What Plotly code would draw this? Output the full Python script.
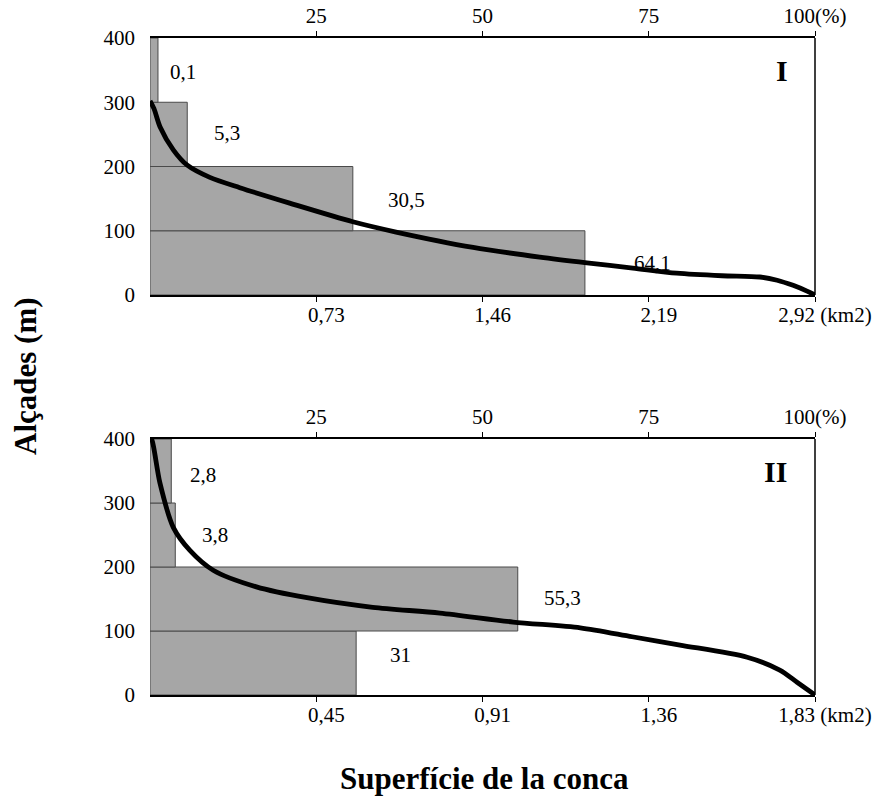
import plotly.graph_objects as go

# ---------------- data ----------------
alt_bands = [50, 150, 250, 350]          # band centres (m): 0-100, 100-200, 200-300, 300-400
band_height = 100

# Panel I
bar_pct_I = [65.4, 30.5, 5.6, 1.2]        # drawn bar lengths (% of basin area)
share_lbl_I = ["64,1", "30,5", "5,3", "0,1"]
curve_x_I = [0, 0.6, 1.5, 3.5, 5.6, 9, 13.5, 21, 30.5, 37, 48.6, 58.6, 65.7, 72.6, 79.2, 86, 91.7, 94.3, 96.7, 98.8, 100]
curve_y_I = [302, 290, 262, 226, 202, 183, 167, 143, 114, 98, 74, 59, 50, 42, 34, 30, 28, 23, 15, 6, 0]
km_lbl_I = ["0,73", "1,46", "2,19", "2,92 (km2)"]      # km2 at 25/50/75/100 %

# Panel II
bar_pct_II = [31.0, 55.3, 3.8, 3.2]
share_lbl_II = ["31", "55,3", "3,8", "2,8"]
curve_x_II = [0, 0.3, 1.5, 3.5, 6, 9.5, 16, 23.6, 33.5, 43.6, 54.6, 64.7, 72.5, 79.7, 89.8, 94.7, 97.3, 100]
curve_y_II = [402, 398, 331, 262, 226, 195, 169, 152, 137, 128, 114, 105, 91, 78, 59, 39, 20, 0]
km_lbl_II = ["0,45", "0,91", "1,36", "1,83 (km2)"]

pct_ticks = [25, 50, 75, 100]
pct_lbl = ["25", "50", "75", "100(%)"]
alt_ticks = [0, 100, 200, 300, 400]

# ---------------- style ----------------
FONT = "Liberation Serif"
BAR_FILL = "#a6a6a6"
BAR_LINE = "#4a4a4a"
TICK_SIZE = 21

XDOM = [150 / 891, 815 / 891]
YDOM_I = [1 - 295 / 799, 1 - 38 / 799]
YDOM_II = [1 - 695 / 799, 1 - 439 / 799]

fig = go.Figure()


def add_panel(bars, curve_x, curve_y, xa_bot, xa_top, ya):
    # bars on the bottom axis, curve on the overlaid top (%) axis (drawn above); same 0-100 % scale
    fig.add_trace(go.Bar(
        x=bars, y=alt_bands, orientation="h", width=band_height,
        marker=dict(color=BAR_FILL, line=dict(color=BAR_LINE, width=1)),
        xaxis=xa_bot, yaxis=ya, showlegend=False, hoverinfo="skip"))
    fig.add_trace(go.Scatter(
        x=curve_x, y=curve_y, mode="lines",
        line=dict(color="black", width=4.8, shape="spline", smoothing=0.8),
        xaxis=xa_top, yaxis=ya, showlegend=False, hoverinfo="skip"))


add_panel(bar_pct_I, curve_x_I, curve_y_I, "x", "x2", "y")
add_panel(bar_pct_II, curve_x_II, curve_y_II, "x3", "x4", "y2")

tickfont = dict(family=FONT, size=TICK_SIZE, color="black")


def bot_axis(txt, anchor):
    return dict(domain=XDOM, range=[0, 100], tickvals=pct_ticks, ticktext=txt,
                showline=True, linecolor="black", linewidth=1.5, ticks="outside",
                ticklen=5, tickcolor="black", showgrid=False, zeroline=False,
                tickfont=tickfont, anchor=anchor, side="bottom",
                ticklabelshift=10, ticklabelstandoff=-5, automargin=False, fixedrange=True)


def top_axis(overlay, anchor):
    return dict(domain=XDOM, range=[0, 100], tickvals=pct_ticks, ticktext=pct_lbl,
                showline=True, linecolor="black", linewidth=1.5, ticks="outside",
                ticklen=5, tickcolor="black", showgrid=False, zeroline=False,
                tickfont=tickfont, anchor=anchor, side="top", overlaying=overlay,
                automargin=False, fixedrange=True)


def alt_axis(dom, anchor):
    return dict(domain=dom, range=[0, 400], tickvals=alt_ticks, anchor=anchor,
                showline=False, ticks="", showgrid=False, zeroline=False,
                tickfont=tickfont, ticklabelstandoff=14, automargin=False,
                fixedrange=True)


fig.update_layout(
    width=891, height=799,
    margin=dict(l=0, r=0, t=0, b=0, autoexpand=False),
    paper_bgcolor="white", plot_bgcolor="white",
    font=dict(family=FONT, color="black"),
    barmode="overlay",
    xaxis=bot_axis(km_lbl_I, "y"),
    xaxis2=top_axis("x", "y"),
    xaxis3=bot_axis(km_lbl_II, "y2"),
    xaxis4=top_axis("x3", "y2"),
    yaxis=alt_axis(YDOM_I, "x"),
    yaxis2=alt_axis(YDOM_II, "x3"),
)

# right-hand frame lines
for xa, ya in [("x", "y"), ("x3", "y2")]:
    fig.add_shape(type="line", xref=f"{xa} domain", yref=f"{ya} domain",
                  x0=1, x1=1, y0=0, y1=1, line=dict(color="black", width=1.5))

lblfont = dict(family=FONT, size=TICK_SIZE, color="black")
# share labels (% of area per altitude band)
pos_I = [(75.5, 50), (38.5, 148), (11.6, 252), (5.0, 347)]
pos_II = [(37.7, 62), (62.1, 152), (9.8, 250), (8.0, 344)]
for (px, py), t in zip(pos_I, share_lbl_I):
    fig.add_annotation(x=px, y=py, xref="x", yref="y", text=t, showarrow=False, font=lblfont)
for (px, py), t in zip(pos_II, share_lbl_II):
    fig.add_annotation(x=px, y=py, xref="x3", yref="y2", text=t, showarrow=False, font=lblfont)

romfont = dict(family=FONT, size=30, color="black")
fig.add_annotation(x=95, y=350, xref="x", yref="y", text="<b>I</b>", showarrow=False, font=romfont)
fig.add_annotation(x=94, y=350, xref="x3", yref="y2", text="<b>II</b>", showarrow=False, font=romfont)

fig.add_annotation(x=485 / 891, y=1 - 778 / 799, xref="paper", yref="paper",
                   text="<b>Superfície de la conca</b>", showarrow=False,
                   font=dict(family=FONT, size=31, color="black"),
                   xanchor="center", yanchor="middle")
fig.add_annotation(x=25 / 891, y=1 - 376 / 799, xref="paper", yref="paper",
                   text="<b>Alçades (m)</b>", showarrow=False, textangle=-90,
                   font=dict(family=FONT, size=31, color="black"),
                   xanchor="center", yanchor="middle")

fig.write_html("out.html", config={"displayModeBar": False},
               post_script="document.body.style.margin='0';document.body.style.overflow='hidden';")
